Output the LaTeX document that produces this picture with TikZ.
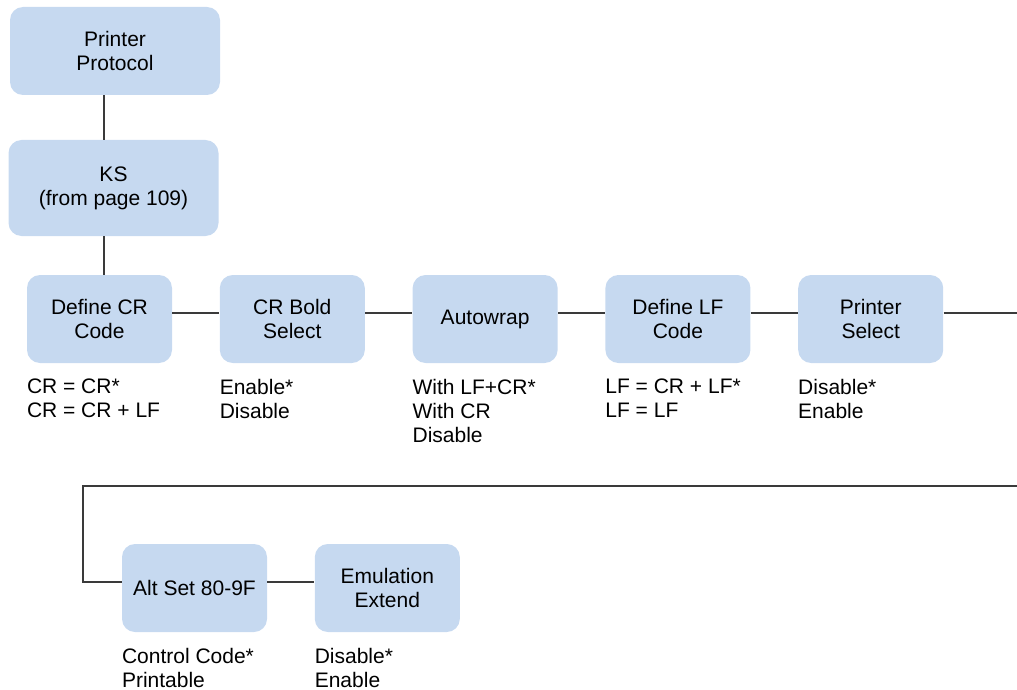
\documentclass[tikz,border=0pt]{standalone}
\usepackage{fontspec}
\setmainfont{Liberation Sans}
\usetikzlibrary{positioning}
\definecolor{MenuFill}{RGB}{198,217,240}
\definecolor{MenuLine}{HTML}{3A3A3A}

\begin{document}
\begin{tikzpicture}[
    x=0.5pt,y=-0.5pt,
    node distance=23.5pt,
    menu/.style={fill=MenuFill,rounded corners=6.5pt,minimum width=72.5pt,minimum height=44pt,align=center,inner sep=0pt,font=\fontsize{10.5}{12}\selectfont},
    headbox/.style={menu,minimum width=105pt},
    opts/.style={anchor=north west,inner sep=0pt,align=left,font=\fontsize{10.5}{12}\selectfont},
    link/.style={MenuLine,line width=0.6pt}
  ]
    \useasboundingbox (0,0) rectangle (1017,690);
    \node[headbox] (proto) at (115,51) {Printer\\Protocol};
    \node[headbox,minimum height=48pt] (ks) at (113.5,188) {KS\\(from page 109)};
    \node[menu] (crcode) at (99.5,319) {Define CR\\Code};
    \node[menu,right=of crcode] (bold) {CR Bold\\Select};
    \node[menu,right=of bold] (wrap) {Autowrap};
    \node[menu,right=of wrap] (lfcode) {Define LF\\Code};
    \node[menu,right=of lfcode] (psel) {Printer\\Select};
    \node[menu] (altset) at (194.5,588) {Alt Set 80-9F};
    \node[menu,right=of altset] (emu) {Emulation\\Extend};
    % option lists
    \node[opts] (crset) at ([yshift=-7.5pt]crcode.south west) {CR = CR*\\CR = CR + LF};
    \node[opts] (boldset) at ([yshift=-7.5pt]bold.south west) {Enable*\\Disable};
    \node[opts] (wrapset) at ([yshift=-7.5pt]wrap.south west) {With LF+CR*\\With CR\\Disable};
    \node[opts] (lfset) at ([yshift=-7.5pt]lfcode.south west) {LF = CR + LF*\\LF = LF};
    \node[opts] (pselset) at ([yshift=-7.5pt]psel.south west) {Disable*\\Enable};
    \node[opts] (altsetopt) at ([yshift=-7.5pt]altset.south west) {Control Code*\\Printable};
    \node[opts] (emuset) at ([yshift=-7.5pt]emu.south west) {Disable*\\Enable};
    % connectors
    \coordinate (stem) at (104,0);
    \coordinate (rowa) at (0,313);
    \coordinate (edgea) at (1017,313);
    \coordinate (edgeb) at (1017,486);
    \coordinate (turn) at (83,486);
    \coordinate (rowb) at (0,582);
    \draw[link] (proto.south -| stem) -- (ks.north -| stem);
    \draw[link] (ks.south -| stem) -- (crcode.north -| stem);
    \foreach \a/\b in {crcode/bold,bold/wrap,wrap/lfcode,lfcode/psel}
      \draw[link] (\a.east |- rowa) -- (\b.west |- rowa);
    \draw[link] (psel.east |- rowa) -- (edgea);
    \draw[link] (edgeb) -- (turn) -- (turn |- rowb) -- (altset.west |- rowb);
    \draw[link] (altset.east |- rowb) -- (emu.west |- rowb);
  \end{tikzpicture}
\end{document}
